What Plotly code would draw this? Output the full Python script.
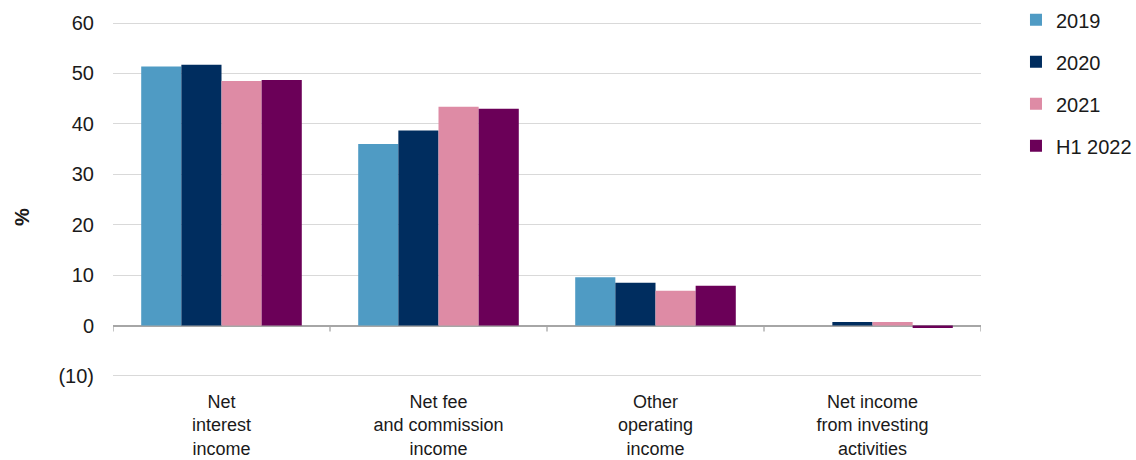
import plotly.graph_objects as go

# Income structure by component, % of total operating income
categories = ["Net<br>interest<br>income",
              "Net fee<br>and commission<br>income",
              "Other<br>operating<br>income",
              "Net income<br>from investing<br>activities"]
series_names = ["2019", "2020", "2021", "H1 2022"]
values_2019 = [51.4, 36.0, 9.6, 0.0]
values_2020 = [51.7, 38.7, 8.5, 0.7]
values_2021 = [48.5, 43.4, 6.9, 0.7]
values_h1_2022 = [48.7, 43.0, 7.9, -0.5]
colors = ["#4F9BC4", "#002D5F", "#DE8BA5", "#6B0058"]

y_tickvals = [-10, 0, 10, 20, 30, 40, 50, 60]
y_ticktext = ["(10)", "0", "10", "20", "30", "40", "50", "60"]

FONT = "Liberation Sans, Arial, sans-serif"

fig = go.Figure()
for i, (name, vals) in enumerate(zip(series_names,
                                     [values_2019, values_2020, values_2021, values_h1_2022])):
    fig.add_trace(go.Bar(
        x=list(range(len(categories))), y=vals, name=name,
        marker=dict(color=colors[i], line=dict(width=0)),
        legendgroup=name,
    ))

# Short tick marks on the zero line between categories
for k in range(len(categories) + 1):
    fig.add_shape(type="line", xref="x", yref="y",
                  x0=k - 0.5, x1=k - 0.5, y0=0, y1=-1.2,
                  line=dict(color="#A6A6A6", width=1.3))

# Rotated unit label on the left
fig.add_annotation(text="<b>%</b>", xref="paper", yref="paper",
                   x=-0.105, y=0.45, xanchor="center", yanchor="middle",
                   textangle=-90, showarrow=False, font=dict(size=20))

fig.update_layout(
    width=1136, height=460,
    margin=dict(l=113, r=155, t=22, b=83, autoexpand=False),
    paper_bgcolor="white", plot_bgcolor="white",
    barmode="group", bargap=0.26, bargroupgap=0,
    font=dict(family=FONT, size=20, color="#1A1A1A"),
    showlegend=True,
    legend=dict(x=1.0403, y=1.061, xanchor="left", yanchor="top",
                font=dict(size=20), tracegroupgap=13,
                bgcolor="rgba(0,0,0,0)"),
    xaxis=dict(
        tickmode="array", tickvals=list(range(len(categories))), ticktext=categories,
        range=[-0.5, len(categories) - 0.5],
        showgrid=False, zeroline=False, showline=False, ticks="",
        tickfont=dict(size=18), ticklabelstandoff=12,
    ),
    yaxis=dict(
        range=[-10.2, 60.2], tickvals=y_tickvals, ticktext=y_ticktext,
        showgrid=True, gridcolor="#D9D9D9", gridwidth=1.3,
        zeroline=True, zerolinecolor="#A6A6A6", zerolinewidth=1.5,
        showline=False, ticks="", ticklabelstandoff=18,
        tickfont=dict(size=20),
    ),
)

fig.write_html("out.html")
